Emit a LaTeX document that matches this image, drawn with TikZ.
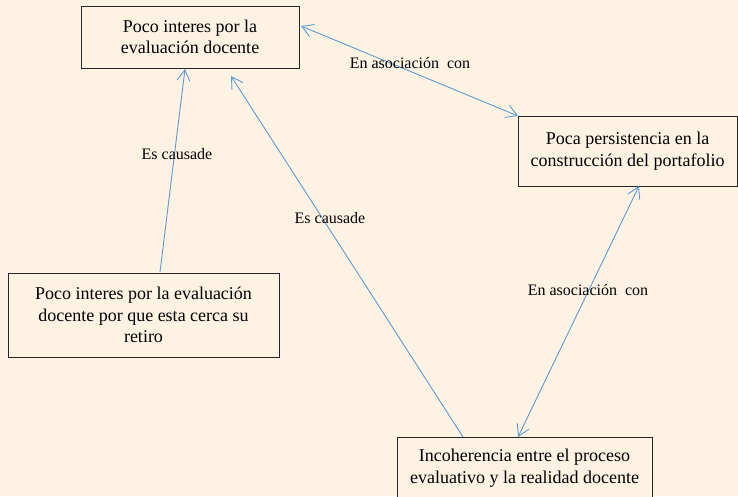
\documentclass[tikz,border=0pt]{standalone}
\usepackage{fontspec}
\setmainfont{Liberation Serif}
\usetikzlibrary{arrows.meta}
\definecolor{bgc}{HTML}{FEF2E3}
\definecolor{arrc}{HTML}{5B9BD5}
\definecolor{boxc}{HTML}{262626}
\tikzset{
  barbtip/.tip={Straight Barb[length=11pt,width=13pt,line width=0.9pt]},
  conceptbox/.style={draw=boxc, line width=1pt, fill=bgc, align=center, inner sep=0pt,
    font=\fontsize{18}{21.5}\selectfont, text=black},
  linkarrow/.style={draw=arrc, line width=0.9pt, -barbtip},
  biarrow/.style={draw=arrc, line width=0.9pt, barbtip-barbtip},
  linklabel/.style={font=\fontsize{16}{19}\selectfont, text=black, inner sep=0pt}
}
\begin{document}
\begin{tikzpicture}[x=1pt,y=-1pt]
\fill[bgc] (0,0) rectangle (738,496);
\useasboundingbox (0,0) rectangle (738,496);
\clip (0,0) rectangle (738,496);

\node[conceptbox, minimum width=218pt, minimum height=62pt] (b1) at (190,37) {Poco interes por la\\evaluación docente};
\node[conceptbox, minimum width=219pt, minimum height=70pt] (b2) at (627.5,151) {Poca persistencia en la\\construcción del portafolio};
\node[conceptbox, minimum width=271pt, minimum height=84pt] (b3) at (143.5,315) {Poco interes por la evaluación\\docente por que esta cerca su\\retiro};
\node[conceptbox, minimum width=255pt, minimum height=62pt] (b4) at (524.5,468) {Incoherencia entre el proceso\\evaluativo y la realidad docente};

\coordinate (a1s) at (160,272);
\coordinate (a1e) at (185,69);
\coordinate (a2s) at (463,437);
\coordinate (a2e) at (231,76);
\coordinate (a3s) at (301,26);
\coordinate (a3e) at (518,116);
\coordinate (a4s) at (639,186);
\coordinate (a4e) at (518,437);

\draw[linkarrow] (a1s) -- (a1e);
\draw[linkarrow] (a2s) -- (a2e);
\draw[biarrow] (a3s) -- (a3e);
\draw[biarrow] (a4s) -- (a4e);

\node[linklabel] (l1) at (177,154) {Es causade};
\node[linklabel] (l2) at (330,218) {Es causade};
\node[linklabel] (l3) at (410,63) {En asociación\ \ con};
\node[linklabel] (l4) at (588,290) {En asociación\ \ con};
\end{tikzpicture}
\end{document}
